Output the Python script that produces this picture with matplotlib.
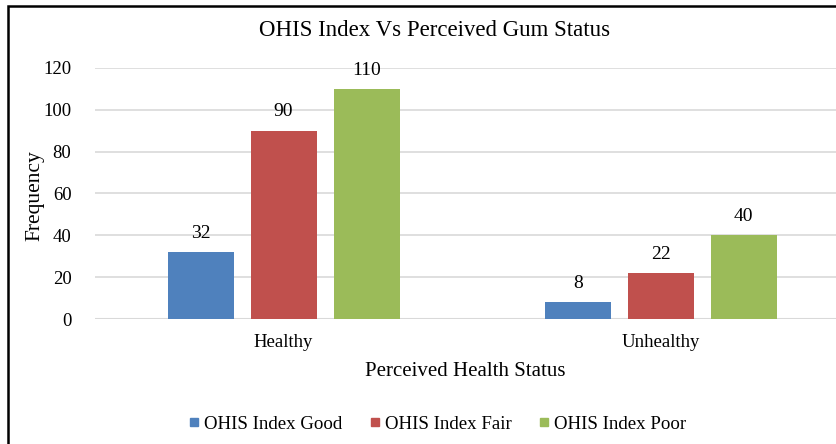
import numpy as np
import matplotlib.pyplot as plt
from matplotlib.patches import Rectangle
from matplotlib.lines import Line2D

plt.rcParams['font.family'] = ['Liberation Serif', 'DejaVu Serif']

categories = ['Healthy', 'Unhealthy']
series = ['OHIS Index Good', 'OHIS Index Fair', 'OHIS Index Poor']
good = [32, 8]
fair = [90, 22]
poor = [110, 40]
colors = ['#4f81bd', '#c0504d', '#9bbb59']

W, H = 836, 444
fig = plt.figure(figsize=(W/100, H/100), dpi=100)
ax = fig.add_axes([95/W, 1-319/H, (836-95)/W, (319-68)/H])

x = np.arange(len(categories))
width = 0.175
step = 0.22
for i, (vals, name, c) in enumerate(zip([good, fair, poor], series, colors)):
    pos = x + (i-1)*step
    ax.bar(pos, vals, width, color=c, label=name, zorder=3)
    for p, v in zip(pos, vals):
        ax.text(p, v + 9, str(v), ha='center', va='center', fontsize=14)

ax.set_ylim(0, 120)
ax.set_xlim(-0.5, 1.465)
ax.set_yticks(range(0, 121, 20))
ax.set_xticks(x)
ax.set_xticklabels(categories)
ax.tick_params(axis='both', length=0, labelsize=13.5)
ax.tick_params(axis='y', pad=17)
ax.tick_params(axis='x', pad=11)
ax.grid(axis='y', color='#d9d9d9', linewidth=1.2, zorder=0)
for s in ax.spines.values():
    s.set_visible(False)
ax.axhline(0, color='#d9d9d9', linewidth=1.5, zorder=2)

ax.set_xlabel('Perceived Health Status', fontsize=15, labelpad=8)
ax.text(35/W, 1-196/H, 'Frequency', transform=fig.transFigure, rotation=90,
        ha='center', va='center', fontsize=15.5)
fig.text(435/W, 1-30/H, 'OHIS Index Vs Perceived Gum Status', ha='center', va='center', fontsize=16.5)

handles = [Line2D([], [], marker='s', linestyle='', markersize=6, color=c) for c in colors]
fig.legend(handles, series, loc='center', bbox_to_anchor=(438/W, 1-424/H), ncol=3,
           frameon=False, fontsize=13.6, handlelength=0.5, handletextpad=0.3,
           columnspacing=1.45)

# border of the chart area (cropped on the right and bottom)
fig.add_artist(Rectangle((8/W, -0.1), 1.2, 1.1 - 6/H, transform=fig.transFigure,
                         fill=False, edgecolor='black', linewidth=1.8))

fig.savefig('out.png', dpi=100)
